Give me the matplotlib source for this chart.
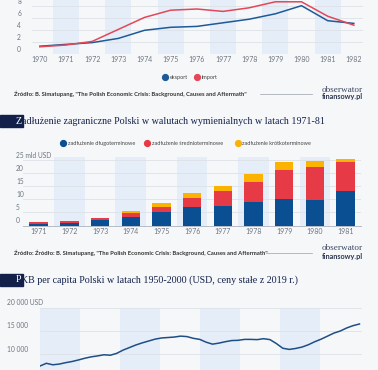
import numpy as np
import matplotlib
matplotlib.use('Agg')
from matplotlib import pyplot as plt
from matplotlib.lines import Line2D
from matplotlib.patches import Rectangle
from matplotlib.transforms import blended_transform_factory

# --- dane: eksport / import 1970-1982 ---
trade_years = [1970, 1971, 1972, 1973, 1974, 1975, 1976, 1977, 1978, 1979, 1980, 1981, 1982]
eksport = [1.3, 1.6, 1.9, 2.6, 3.95, 4.45, 4.6, 5.2, 5.8, 6.7, 8.05, 5.55, 5.1]
import_ = [1.2, 1.5, 2.1, 4.1, 6.1, 7.3, 7.5, 7.1, 7.7, 8.7, 8.7, 6.3, 4.8]
trade_yticks = [0, 2, 4, 6, 8]

# --- dane: zadluzenie 1971-1981 (mld USD) ---
debt_years = [1971, 1972, 1973, 1974, 1975, 1976, 1977, 1978, 1979, 1980, 1981]
debt_long = [0.7, 1.1, 2.0, 3.2, 5.0, 6.95, 7.6, 8.85, 10.1, 9.7, 13.3]
debt_mid = [0.5, 0.6, 0.9, 1.6, 2.2, 3.65, 5.6, 7.75, 11.1, 12.7, 11.1]
debt_short = [0.05, 0.1, 0.1, 0.7, 1.5, 1.9, 2.0, 2.9, 2.9, 2.2, 1.0]
debt_yticks = [0, 5, 10, 15, 20, 25]
debt_ylabels = ['0', '5', '10', '15', '20', '25 mld USD']

# --- dane: PKB per capita 1950-2000 ---
gdp_years = list(range(1950, 2001))
gdp = [7490, 8070, 7750, 7900, 8200, 8450, 8780, 9150, 9450, 9650,
       9900, 9800, 10200, 10900, 11450, 12000, 12450, 12850, 13250, 13500,
       13600, 13700, 13900, 13800, 13430, 13200, 12600, 12180, 12400, 12700,
       12950, 13000, 13200, 13200, 13150, 13350, 13150, 12300, 11300, 11050,
       11250, 11550, 12050, 12700, 13250, 13900, 14550, 15000, 15650, 16150,
       16500]
gdp_yticks = [10000, 15000, 20000]
gdp_ylabels = ['10 000', '15 000', '20 000 USD']

W, H = 378, 370
BG = '#f6f7f9'
BAND = '#e5eef8'
GRID = '#dde2e8'
TICK = '#6d7580'
NAVY = '#13214a'
SRC = ('Źródło: B. Simatupang, "The Polish Economic Crisis: '
       'Background, Causes and Aftermath"')

fig = plt.figure(figsize=(W / 100, H / 100), dpi=100, facecolor=BG)
renderer = fig.canvas.get_renderer()


def fx(x):
    return x / W


def fy(y):
    return 1 - y / H


def setup_axes(ax):
    ax.set_facecolor('none')
    for s in ax.spines.values():
        s.set_visible(False)
    ax.tick_params(length=0, labelleft=False, labelsize=5.0, labelcolor=TICK)
    ax.grid(axis='y', color=GRID, linewidth=0.6)
    ax.set_axisbelow(True)
    for lab in ax.get_xticklabels():
        lab.set_family('Lato')


def ylabels(ax, ticks, labels, x, ha):
    tr = blended_transform_factory(fig.transFigure, ax.transData)
    for t, l in zip(ticks, labels):
        ax.annotate(l, xy=(fx(x), t), xycoords=tr, xytext=(0, 1.5),
                    textcoords='offset pixels', ha=ha, va='bottom',
                    fontsize=4.8, color=TICK, family='Lato', annotation_clip=False)


def legend_dot(x, y, color, label):
    fig.add_artist(Line2D([fx(x)], [fy(y)], marker='o', markersize=4.2,
                          color=color, transform=fig.transFigure))
    fig.text(fx(x + 4.5), fy(y), label, fontsize=4.0, color='#444444',
             family='Lato', va='center', ha='left')


def source_line(y, text, x_end_text):
    fig.text(fx(14), fy(y), text, fontsize=4.2, color='#333333',
             family='Lato', weight='bold', va='center', ha='left')
    fig.add_artist(Line2D([fx(x_end_text + 8), fx(312)], [fy(y), fy(y)],
                          color='#9aa0a8', linewidth=0.5, transform=fig.transFigure))
    fig.text(fx(342), fy(y - 4.5), 'obserwator', fontsize=6.6, color='#3a4660',
             family='Liberation Serif', va='center', ha='center')
    fig.text(fx(342), fy(y + 3), 'finansowy.pl', fontsize=5.2, color='#2b3550',
             family='Lato', weight='bold', va='center', ha='center')


def title(y, text):
    fig.add_artist(Rectangle((0, fy(y + 6.3)), fx(22.5), 12.5 / H,
                             color=NAVY, transform=fig.transFigure))
    first = fig.text(fx(15.5), fy(y), text[0], fontsize=7.2, color='white',
                     family='Liberation Serif', va='center', ha='left')
    x_next = first.get_window_extent(renderer).x1 + 0.4
    fig.text(x_next / W, fy(y), text[1:], fontsize=7.2, color=NAVY,
             family='Liberation Serif', va='center', ha='left')


# Wykres 1: eksport i import
ax1 = fig.add_axes([fx(32), fy(54), (363 - 32) / W, 60 / H])
for yr in trade_years[1::2]:
    ax1.axvspan(yr - 0.5, yr + 0.5, color=BAND, lw=0, zorder=0)
ax1.plot(trade_years, eksport, color='#1d5a98', linewidth=1.1, zorder=3)
ax1.plot(trade_years, import_, color='#e2475a', linewidth=1.1, zorder=3)
ax1.set_xlim(1969.7, 1982.35)
ax1.set_ylim(0, 10)
ax1.set_yticks(trade_yticks)
ax1.set_xticks(trade_years)
ax1.set_xticklabels([str(y) for y in trade_years])
setup_axes(ax1)
ax1.tick_params(axis='x', pad=1.6)
ylabels(ax1, trade_yticks, [str(t) for t in trade_yticks], 21, 'right')

legend_dot(165, 77, '#1d5a98', 'eksport')
legend_dot(197, 77, '#e2475a', 'import')
source_line(94, SRC, 252)

# Wykres 2: zadluzenie
title(121, 'Zadłużenie zagraniczne Polski w walutach wymienialnych w latach 1971-81')
legend_dot(63, 143, '#0b4f93', 'zadłużenie długoterminowe')
legend_dot(147, 143, '#e63a46', 'zadłużenie średnioterminowe')
legend_dot(238, 143, '#fbb300', 'zadłużenie krótkoterminowe')

ax2 = fig.add_axes([fx(23.3), fy(225.5), (361 - 23.3) / W, 26 * 2.62 / H])
for yr in debt_years[1::2]:
    ax2.axvspan(yr - 0.5, yr + 0.5, color=BAND, lw=0, zorder=0)
bottom_mid = np.array(debt_long)
bottom_short = bottom_mid + np.array(debt_mid)
ax2.bar(debt_years, debt_long, width=0.6, color='#0b4f93', zorder=3)
ax2.bar(debt_years, debt_mid, width=0.6, bottom=bottom_mid, color='#e63a46', zorder=3)
ax2.bar(debt_years, debt_short, width=0.6, bottom=bottom_short, color='#fbb300', zorder=3)
ax2.set_xlim(1970.5, 1981.5)
ax2.set_ylim(0, 26)
ax2.set_yticks(debt_yticks[1:])
ax2.set_xticks(debt_years)
ax2.set_xticklabels([str(y) for y in debt_years])
setup_axes(ax2)
ax2.spines['bottom'].set_visible(True)
ax2.spines['bottom'].set_color('#b5bcc5')
ax2.spines['bottom'].set_linewidth(0.7)
ax2.tick_params(axis='x', pad=1.6)
ylabels(ax2, debt_yticks, debt_ylabels, 16, 'left')

source_line(253, 'Źródło: ' + SRC, 258)

# Wykres 3: PKB per capita
title(280, 'PKB per capita Polski w latach 1950-2000 (USD, ceny stałe z 2019 r.)')
ax3 = fig.add_axes([fx(40), fy(400.9), (361.7 - 40) / W, 93.2 / H])
for start in np.arange(1950, 2000, 12.5):
    ax3.axvspan(start, start + 6.25, color=BAND, lw=0, zorder=0)
ax3.plot(gdp_years, gdp, color='#1f4e85', linewidth=1.1, zorder=3)
ax3.set_xlim(1950, 2000.35)
ax3.set_ylim(0, 20000)
ax3.set_yticks([5000] + gdp_yticks)
ax3.set_xticks([])
setup_axes(ax3)
ylabels(ax3, gdp_yticks, gdp_ylabels, 7, 'left')

plt.savefig('out.png', dpi=100, facecolor=BG)
